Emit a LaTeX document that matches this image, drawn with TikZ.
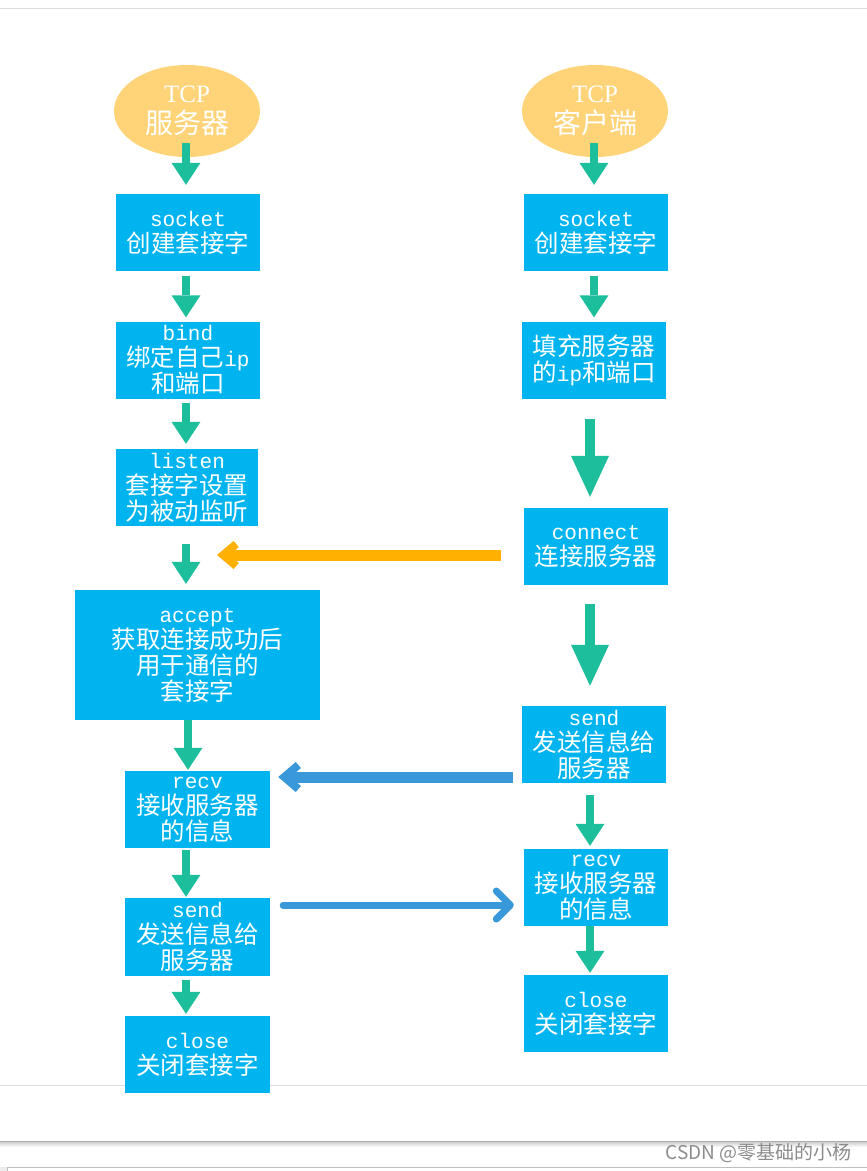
\documentclass[tikz,border=0pt]{standalone}
\usepackage{fontspec}
\setmainfont{Noto Sans CJK SC}
\newfontfamily\lat[Scale=0.86]{Liberation Mono}
\newfontfamily\latserif{Liberation Serif}
\usetikzlibrary{arrows.meta,shapes.geometric}
\definecolor{boxblue}{HTML}{00B4F0}
\definecolor{ovalyel}{HTML}{FFD479}
\definecolor{arrgreen}{HTML}{1DBE9B}
\definecolor{arrorange}{HTML}{FFB000}
\definecolor{arrblue}{HTML}{3898DA}
\begin{document}
\begin{tikzpicture}[x=1pt,y=-1pt,
  box/.style={fill=boxblue, text=white, minimum width=144pt, minimum height=77pt,
    inner sep=0pt, align=center, font=\fontsize{24.5}{26}\selectfont},
  oval/.style={ellipse, fill=ovalyel, text=white, minimum width=146pt, minimum height=92pt,
    inner sep=0pt, align=center, font=\fontsize{28}{31}\selectfont},
  garrow/.style={draw=arrgreen, line width=8pt,
    -{Triangle[width=29pt,length=22pt,line width=0pt]}},
  bigarrow/.style={draw=arrgreen, line width=10pt,
    -{Triangle[width=38pt,length=41pt,line width=0pt]}},
  oarrow/.style={draw=arrorange, line width=11pt,
    -{Straight Barb[length=13pt,width=22pt,line width=8pt]}},
  barrow/.style={draw=arrblue, line width=11pt,
    -{Straight Barb[length=14pt,width=24pt,line width=8pt]}},
  barrowthin/.style={draw=arrblue, line width=7pt, line cap=round,
    -{Straight Barb[length=14pt,width=28pt,line width=7pt,round]}},
  wmark/.style={text=black!45, font=\fontsize{19}{19}\selectfont, inner sep=0pt}
]
\useasboundingbox (0,0) rectangle (867,1171);
\fill[white] (0,0) rectangle (867,1171);
% frame lines
\draw[black!14, line width=1pt] (0,8) -- (867,8);
\draw[black!14, line width=1pt] (0,1085) -- (867,1085);
\shade[top color=black!22, bottom color=white] (0,1141) rectangle (867,1147);
\draw[black!32, line width=1pt] (0,1141) -- (867,1141);
\fill[black!7] (0,1167) rectangle (7,1171);
\draw[black!25, line width=1pt] (7,1171) -- (7,1167) -- (867,1167);

% left column
\node[oval] (E1) at (187,111) {{\latserif\fontsize{25}{31}\selectfont TCP}\\服务器};
\node[box] (L1) at (188,232.5) {{\lat socket}\\创建套接字};
\node[box] (L2) at (188,360) {{\lat bind}\\绑定自己{\lat ip}\\和端口};
\node[box, minimum width=142pt] (L3) at (187,487.5) {{\lat listen}\\套接字设置\\为被动监听};
\node[box, minimum width=245pt, minimum height=130pt] (L4) at (197.5,655) {{\lat accept}\\获取连接成功后\\用于通信的\\套接字};
\node[box, minimum width=145pt] (L5) at (197.5,809.5) {{\lat recv}\\接收服务器\\的信息};
\node[box, minimum width=145pt, minimum height=78pt] (L6) at (197.5,937) {{\lat send}\\发送信息给\\服务器};
\node[box, minimum width=145pt] (L7) at (197.5,1054.5) {{\lat close}\\关闭套接字};

% right column
\node[oval] (E2) at (595,111) {{\latserif\fontsize{25}{31}\selectfont TCP}\\客户端};
\node[box] (R1) at (596,232.5) {{\lat socket}\\创建套接字};
\node[box] (R2) at (594,360) {填充服务器\\的{\lat ip}和端口};
\node[box] (R3) at (596,546.5) {{\lat connect}\\连接服务器};
\node[box] (R4) at (594,744.5) {{\lat send}\\发送信息给\\服务器};
\node[box] (R5) at (596,887.5) {{\lat recv}\\接收服务器\\的信息};
\node[box] (R6) at (596,1013.5) {{\lat close}\\关闭套接字};

% green arrows, left
\draw[garrow] ([shift={(-1,32)}]E1.center) -- ([shift={(-2,-9)}]L1.north);
\draw[garrow] ([shift={(-2,5)}]L1.south) -- ([shift={(-2,-4)}]L2.north);
\draw[garrow] ([shift={(-2,4)}]L2.south) -- ([shift={(-1,-5)}]L3.north);
\draw[garrow] ([shift={(-1,18)}]L3.south) -- ([shift={(-11.5,-6)}]L4.north);
\draw[garrow] ([shift={(-9.5,0)}]L4.south) -- ([shift={(-9.5,-1)}]L5.north);
\draw[garrow] ([shift={(-11.5,2)}]L5.south) -- ([shift={(-11.5,-1)}]L6.north);
\draw[garrow] ([shift={(-11.5,4)}]L6.south) -- ([shift={(-11.5,-2)}]L7.north);

% green arrows, right
\draw[garrow] ([shift={(-1,32)}]E2.center) -- ([shift={(-2,-9)}]R1.north);
\draw[garrow] ([shift={(-2,5)}]R1.south) -- ([shift={(0,-4)}]R2.north);
\draw[bigarrow] ([shift={(-4,20)}]R2.south) -- ([shift={(-6,-11)}]R3.north);
\draw[bigarrow] ([shift={(-6,19)}]R3.south) -- ([shift={(-4,-20)}]R4.north);
\draw[garrow] ([shift={(-4,12)}]R4.south) -- ([shift={(-6,-3)}]R5.north);
\draw[garrow] ([shift={(-6,0)}]R5.south) -- ([shift={(-6,-2)}]R6.north);

% cross arrows
\coordinate (oend) at (217,555);
\draw[oarrow] ([shift={(-23,8.5)}]R3.west) -- (oend);
\draw[barrow] ([shift={(-9,32.5)}]R4.west) -- ([shift={(8,-32.5)}]L5.east);
\draw[barrowthin] ([shift={(13,-32)}]L6.east) -- ([shift={(-10,17.5)}]R5.west);

% watermark
\node[wmark, anchor=east] (wm) at (852,1153) {CSDN @零基础的小杨};
\end{tikzpicture}
\end{document}
